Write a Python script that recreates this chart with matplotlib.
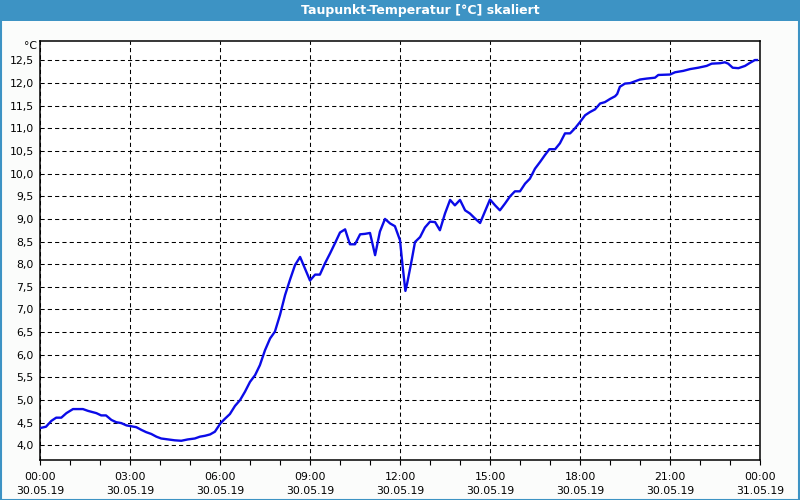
import matplotlib
matplotlib.use("Agg")
import matplotlib.pyplot as plt
from matplotlib.patches import Rectangle
from matplotlib.ticker import MultipleLocator, FixedLocator

title = "Taupunkt-Temperatur [°C] skaliert"
unit = "°C"

hours = [0.0, 0.2, 0.38, 0.54, 0.71, 0.88, 1.1, 1.43, 1.6, 1.88, 2.04, 2.2, 2.38, 2.54,
         2.71, 2.88, 3.04, 3.21, 3.38, 3.54, 3.71, 3.88, 4.04, 4.27, 4.49, 4.71, 4.93,
         5.16, 5.33, 5.5, 5.67, 5.83, 6.02, 6.17, 6.33, 6.5, 6.67, 6.83, 7.0, 7.17, 7.33,
         7.5, 7.67, 7.83, 8.0, 8.17, 8.33, 8.5, 8.67, 8.83, 9.0, 9.17, 9.33, 9.5, 9.67,
         9.83, 10.0, 10.17, 10.33, 10.5, 10.67, 10.83, 11.0, 11.17, 11.33, 11.5, 11.67,
         11.83, 12.0, 12.09, 12.18, 12.24, 12.39, 12.5, 12.67, 12.83, 13.0, 13.17, 13.33,
         13.5, 13.67, 13.83, 14.0, 14.17, 14.33, 14.5, 14.67, 14.83, 15.0, 15.17, 15.33,
         15.5, 15.67, 15.83, 16.0, 16.17, 16.33, 16.5, 16.67, 16.83, 16.98, 17.17, 17.33,
         17.5, 17.67, 17.83, 18.0, 18.17, 18.33, 18.5, 18.67, 18.83, 19.0, 19.17, 19.24,
         19.33, 19.5, 19.67, 19.83, 20.0, 20.22, 20.5, 20.61, 21.0, 21.17, 21.44, 21.67,
         21.94, 22.22, 22.39, 22.67, 22.83, 22.94, 23.09, 23.28, 23.5, 23.67, 23.83, 23.9]

dewpoint = [4.38, 4.41, 4.54, 4.61, 4.61, 4.71, 4.80, 4.80, 4.76, 4.71, 4.66, 4.66, 4.56, 4.51,
            4.49, 4.44, 4.42, 4.40, 4.34, 4.29, 4.25, 4.19, 4.15, 4.13, 4.11, 4.10, 4.13,
            4.15, 4.19, 4.21, 4.24, 4.30, 4.49, 4.59, 4.69, 4.87, 5.00, 5.18, 5.40, 5.55, 5.77,
            6.10, 6.36, 6.51, 6.88, 7.32, 7.65, 7.98, 8.16, 7.91, 7.64, 7.77, 7.77, 8.02, 8.24,
            8.46, 8.70, 8.77, 8.44, 8.44, 8.66, 8.67, 8.69, 8.20, 8.72, 9.00, 8.90,
            8.84, 8.53, 7.94, 7.41, 7.58, 8.09, 8.49, 8.60, 8.81, 8.94, 8.93, 8.75,
            9.12, 9.42, 9.30, 9.42, 9.19, 9.12, 9.01, 8.91, 9.16, 9.43, 9.30, 9.19,
            9.34, 9.50, 9.61, 9.61, 9.78, 9.89, 10.11, 10.26, 10.41, 10.54, 10.54, 10.67,
            10.89, 10.89, 11.00, 11.14, 11.29, 11.36, 11.42, 11.55, 11.58, 11.65, 11.71, 11.76,
            11.92, 11.99, 12.00, 12.04, 12.08, 12.10, 12.12, 12.18, 12.19, 12.24, 12.27, 12.31,
            12.34, 12.38, 12.43, 12.44, 12.46, 12.43, 12.34, 12.33, 12.38, 12.45, 12.51, 12.51]

tick_hours = [0, 3, 6, 9, 12, 15, 18, 21, 24]
tick_times = ["00:00", "03:00", "06:00", "09:00", "12:00", "15:00", "18:00", "21:00", "00:00"]
tick_dates = ["30.05.19"] * 8 + ["31.05.19"]
y_ticks = [4.0, 4.5, 5.0, 5.5, 6.0, 6.5, 7.0, 7.5, 8.0, 8.5, 9.0, 9.5, 10.0, 10.5, 11.0, 11.5, 12.0, 12.5]

W, H = 800, 500
fig = plt.figure(figsize=(8, 5), dpi=100, facecolor="#fbfcfb")

# title bar
fig.patches.append(Rectangle((0, 1 - 21 / H), 1, 21 / H, transform=fig.transFigure,
                             facecolor="#3d93c4", edgecolor="none", zorder=0))
fig.text(420 / W, 1 - 10.5 / H, title, ha="center", va="center", color="white",
         fontsize=9, fontweight="bold", family=["Liberation Sans Narrow", "DejaVu Sans"])
# outer border
fig.patches.append(Rectangle((0.5 / W, 0.5 / H), 1 - 1.5 / W, 1 - 1.5 / H, transform=fig.transFigure,
                             facecolor="none", edgecolor="#3d93c4", linewidth=1.5, zorder=5))

left, right, top, bottom = 40, 760, 40.7, 460
ax = fig.add_axes([left / W, (H - bottom) / H, (right - left) / W, (bottom - top) / H])
ax.set_facecolor("white")

ax.plot(hours, dewpoint, color="#0b0be8", linewidth=1.7, solid_joinstyle="round", zorder=3)

ax.set_xlim(0, 24)
ax.set_ylim(3.675, 12.937)

ax.xaxis.set_major_locator(FixedLocator(tick_hours))
ax.set_xticklabels([f"{t}\n{d}" for t, d in zip(tick_times, tick_dates)], linespacing=1.5)
ax.xaxis.set_minor_locator(MultipleLocator(1))
ax.tick_params(axis="x", which="both", direction="out", length=3.5, width=0.8, color="black",
               labelsize=7.8, pad=5)

ax.yaxis.set_major_locator(FixedLocator(y_ticks))
ax.set_yticklabels([f"{v:.1f}".replace(".", ",") for v in y_ticks])
ax.tick_params(axis="y", which="both", length=0, labelsize=7.8, pad=4.5)

for lab in ax.get_xticklabels() + ax.get_yticklabels():
    lab.set_family("DejaVu Sans")

ax.grid(True, which="major", color="black", linewidth=0.75, linestyle=(0, (4, 3)), zorder=1)
for sp in ax.spines.values():
    sp.set_linewidth(1.1)
    sp.set_color("black")

fig.text(37 / W, 1 - 46 / H, unit, ha="right", va="center", fontsize=7.8)

fig.savefig("out.png", dpi=100, facecolor=fig.get_facecolor())
